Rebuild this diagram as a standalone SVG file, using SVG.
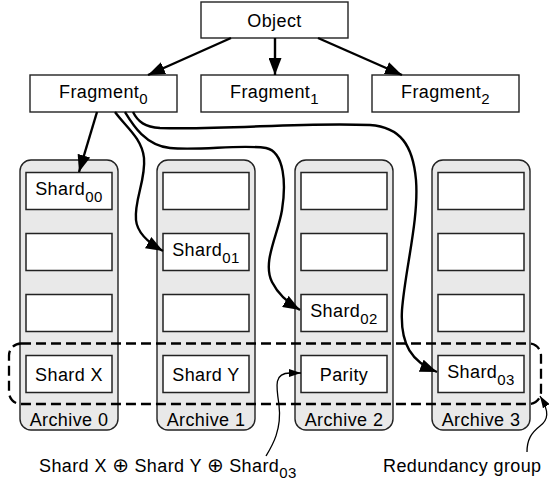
<svg xmlns="http://www.w3.org/2000/svg" width="550" height="484" viewBox="0 0 550 484">
<defs>
<style>
text{font-family:"Liberation Sans",Arial,Helvetica,sans-serif;font-size:18px;fill:#000;letter-spacing:0.4px}
.c{text-anchor:middle}
.sub{font-size:15px}
.box{fill:#fff;stroke:#222;stroke-width:1.4}
.arch{fill:#e9e9e9;stroke:#222;stroke-width:1.4}
.slot{fill:#fff;stroke:#222;stroke-width:1.5}
.conn{fill:none;stroke:#000;stroke-width:2.4}
.thin{fill:none;stroke:#000;stroke-width:1.3}
.grp{fill:none;stroke:#000;stroke-width:2.3;stroke-dasharray:10 5}
.op{font-family:"DejaVu Sans",sans-serif;font-size:20px;letter-spacing:0}
</style>
<marker id="ah" markerUnits="userSpaceOnUse" markerWidth="17" markerHeight="13" refX="17" refY="6.5" orient="auto"><path d="M0,0 L17,6.5 L0,13 z" fill="#000"/></marker>
<marker id="as" markerUnits="userSpaceOnUse" markerWidth="12" markerHeight="8" refX="12" refY="4" orient="auto"><path d="M0,0 L12,4 L0,8 z" fill="#000"/></marker>
</defs>

<g id="object"><rect class="box" x="201" y="2" width="147" height="36"/><text class="c" x="274.5" y="27">Object</text></g>
<g id="fragment0"><rect class="box" x="30" y="75" width="147" height="37"/><text class="c" x="103.5" y="98">Fragment<tspan class="sub" dy="6">0</tspan></text></g>
<g id="fragment1"><rect class="box" x="201" y="75" width="147" height="37"/><text class="c" x="274.5" y="98">Fragment<tspan class="sub" dy="6">1</tspan></text></g>
<g id="fragment2"><rect class="box" x="372" y="75" width="147" height="37"/><text class="c" x="445.5" y="98">Fragment<tspan class="sub" dy="6">2</tspan></text></g>

<g id="archive0"><rect class="arch" x="20" y="160" width="98" height="270" rx="11"/><text class="c" x="69" y="426">Archive 0</text></g>
<g id="archive1"><rect class="arch" x="157" y="160" width="98" height="270" rx="11"/><text class="c" x="206" y="426">Archive 1</text></g>
<g id="archive2"><rect class="arch" x="295" y="160" width="98" height="270" rx="11"/><text class="c" x="344" y="426">Archive 2</text></g>
<g id="archive3"><rect class="arch" x="432" y="160" width="98" height="270" rx="11"/><text class="c" x="481" y="426">Archive 3</text></g>

<g id="shard00"><rect class="slot" x="26" y="172.5" width="86" height="37"/><text class="c" x="69" y="195">Shard<tspan class="sub" dy="6.5">00</tspan></text></g>
<g id="a0r2"><rect class="slot" x="26" y="233.5" width="86" height="37"/></g>
<g id="a0r3"><rect class="slot" x="26" y="294.5" width="86" height="37"/></g>
<g id="shardX"><rect class="slot" x="26" y="355.5" width="86" height="37"/><text class="c" x="69" y="380.5">Shard X</text></g>

<g id="a1r1"><rect class="slot" x="163" y="172.5" width="86" height="37"/></g>
<g id="shard01"><rect class="slot" x="163" y="233.5" width="86" height="37"/><text class="c" x="206" y="256">Shard<tspan class="sub" dy="6.5">01</tspan></text></g>
<g id="a1r3"><rect class="slot" x="163" y="294.5" width="86" height="37"/></g>
<g id="shardY"><rect class="slot" x="163" y="355.5" width="86" height="37"/><text class="c" x="206" y="380.5">Shard Y</text></g>

<g id="a2r1"><rect class="slot" x="301" y="172.5" width="86" height="37"/></g>
<g id="a2r2"><rect class="slot" x="301" y="233.5" width="86" height="37"/></g>
<g id="shard02"><rect class="slot" x="301" y="294.5" width="86" height="37"/><text class="c" x="344" y="317">Shard<tspan class="sub" dy="6.5">02</tspan></text></g>
<g id="parity"><rect class="slot" x="301" y="355.5" width="86" height="37"/><text class="c" x="344" y="380.5">Parity</text></g>

<g id="a3r1"><rect class="slot" x="438" y="172.5" width="86" height="37"/></g>
<g id="a3r2"><rect class="slot" x="438" y="233.5" width="86" height="37"/></g>
<g id="a3r3"><rect class="slot" x="438" y="294.5" width="86" height="37"/></g>
<g id="shard03"><rect class="slot" x="438" y="355.5" width="86" height="37"/><text class="c" x="481" y="378">Shard<tspan class="sub" dy="6.5">03</tspan></text></g>

<g id="redundancy-group"><rect class="grp" x="9" y="343.5" width="532" height="60.5" rx="12"/></g>

<g id="connectors">
<path class="conn" d="M231,38 L148,75" marker-end="url(#ah)"/>
<path class="conn" d="M275,38 L275,75" marker-end="url(#ah)"/>
<path class="conn" d="M318,38 L402,75" marker-end="url(#ah)"/>
<path class="conn" d="M97,112 L79,172" marker-end="url(#ah)"/>
<path class="conn" d="M115,112 C125,126 142,138 144,158 C146,180 134,200 136,220 C137,231 147,242 163,251" marker-end="url(#ah)"/>
<path class="conn" d="M125,112 C133,125 145,145 170,148 C200,151 240,144 266,148 C285,152 286,185 282,210 C278,235 262,262 272,282 C278,294 288,303 300,310" marker-end="url(#ah)"/>
<path class="conn" d="M133,112 C138,122 145,127 160,128 C230,130 300,122 370,125 C400,127 413,145 416,180 C419,220 405,270 402,310 C400,345 412,362 437,372" marker-end="url(#ah)"/>
<path class="thin" d="M266,456 C272,446 282,430 279,405 C276,385 274,373 290,373 L301,373" marker-end="url(#as)"/>
<path class="thin" d="M527,452 C527,440 531,433 540,426 C548,420 550,412 540,396" marker-end="url(#as)"/>
</g>

<g id="labels">
<text x="39" y="472">Shard X <tspan class="op">⊕</tspan> Shard Y <tspan class="op">⊕</tspan> Shard<tspan class="sub" dy="6">03</tspan></text>
<text x="383" y="472">Redundancy group</text>
</g>
</svg>
